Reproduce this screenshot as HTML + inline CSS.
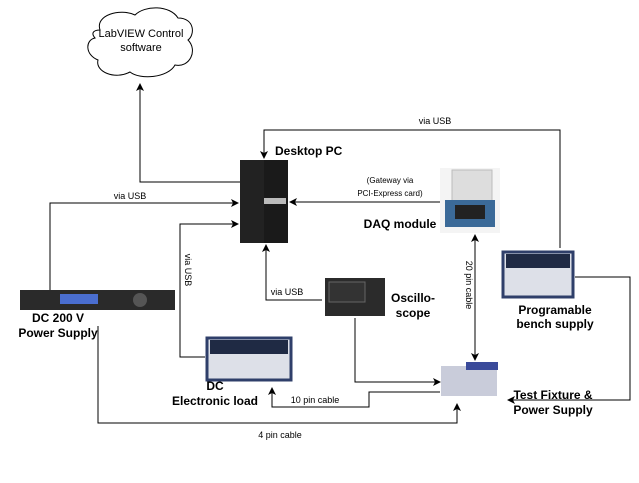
<!DOCTYPE html>
<html><head><style>
body{margin:0;background:#fff;width:639px;height:478px;overflow:hidden;font-family:"Liberation Sans",sans-serif}
</style></head><body>
<svg width="639" height="478" viewBox="0 0 639 478" xmlns="http://www.w3.org/2000/svg" font-family="Liberation Sans, sans-serif">
<defs><marker id="a" markerWidth="8" markerHeight="8" refX="7" refY="4" orient="auto" markerUnits="userSpaceOnUse"><path d="M0,0 L8,4 L0,8 L2,4 z" fill="#000"/></marker></defs>
<!-- cloud -->
<path d="M100,30 C95,15 120,8 135,15 C145,5 170,5 178,18 C195,18 195,35 188,40 C198,50 190,68 175,65 C168,78 140,80 130,72 C115,80 95,72 98,60 C85,55 85,40 95,38 C90,32 95,30 100,30 Z" fill="#fff" stroke="#000" stroke-width="1"/>
<text x="141" y="37" font-size="11" text-anchor="middle">LabVIEW Control</text>
<text x="141" y="51" font-size="11" text-anchor="middle">software</text>
<g fill="none" stroke="#000" stroke-width="1">
<polyline points="240,182 140,182 140,84" marker-end="url(#a)"/>
<polyline points="560,248 560,130 264,130 264,158" marker-end="url(#a)"/>
<polyline points="440,202 290,202" marker-end="url(#a)"/>
<polyline points="50,290 50,203 238,203" marker-end="url(#a)"/>
<polyline points="205,357 180,357 180,224 238,224" marker-end="url(#a)"/>
<polyline points="322,300 266,300 266,245" marker-end="url(#a)"/>
<polyline points="355,318 355,382 440,382" marker-end="url(#a)"/>
<polyline points="475,250 475,235" marker-end="url(#a)"/>
<polyline points="475,240 475,360" marker-end="url(#a)"/>
<polyline points="575,277 630,277 630,400 508,400" marker-end="url(#a)"/>
<polyline points="98,326 98,423 457,423 457,404" marker-end="url(#a)"/>
<polyline points="440,392 369,392 369,407 272,407 272,388" marker-end="url(#a)"/>
</g>
<!-- PC -->
<rect x="240" y="160" width="48" height="83" fill="#1a1a1a"/>
<rect x="240" y="160" width="24" height="83" fill="#222"/>
<rect x="264" y="198" width="22" height="6" fill="#bbb"/>
<text x="275" y="155" font-size="12" font-weight="bold">Desktop PC</text>
<text x="390" y="183" font-size="8" text-anchor="middle">(Gateway via</text>
<text x="390" y="196" font-size="8" text-anchor="middle">PCI-Express card)</text>
<text x="435" y="124" font-size="9" text-anchor="middle">via USB</text>
<text x="130" y="199" font-size="9" text-anchor="middle">via USB</text>
<text x="185" y="270" font-size="9" text-anchor="middle" transform="rotate(90 185 270)">via USB</text>
<text x="287" y="295" font-size="9" text-anchor="middle">via USB</text>
<text x="466" y="285" font-size="9" text-anchor="middle" transform="rotate(90 466 285)">20 pin cable</text>
<text x="315" y="403" font-size="9" text-anchor="middle">10 pin cable</text>
<text x="280" y="438" font-size="9" text-anchor="middle">4 pin cable</text>
<!-- DAQ -->
<rect x="440" y="168" width="60" height="65" fill="#f4f4f4"/>
<rect x="452" y="170" width="40" height="35" fill="#ddd" stroke="#bbb"/>
<rect x="445" y="200" width="50" height="27" fill="#3b6a98"/>
<rect x="455" y="205" width="30" height="14" fill="#222"/>
<text x="400" y="228" font-size="12" font-weight="bold" text-anchor="middle">DAQ module</text>
<!-- DC 200V -->
<rect x="20" y="290" width="155" height="20" fill="#2a2a2a"/>
<rect x="60" y="294" width="38" height="10" fill="#4a6ed0"/>
<circle cx="140" cy="300" r="7" fill="#555"/>
<text x="58" y="322" font-size="12" font-weight="bold" text-anchor="middle">DC 200 V</text>
<text x="58" y="337" font-size="12" font-weight="bold" text-anchor="middle">Power Supply</text>
<!-- scope -->
<rect x="325" y="278" width="60" height="38" fill="#2b2b2b"/>
<rect x="329" y="282" width="36" height="20" fill="#333" stroke="#666"/>
<text x="413" y="302" font-size="12" font-weight="bold" text-anchor="middle">Oscillo-</text>
<text x="413" y="317" font-size="12" font-weight="bold" text-anchor="middle">scope</text>
<!-- bench -->
<rect x="503" y="252" width="70" height="45" fill="#dde0e8" stroke="#2f3f6a" stroke-width="3"/>
<rect x="506" y="254" width="64" height="14" fill="#1f2a44"/>
<text x="555" y="314" font-size="12" font-weight="bold" text-anchor="middle">Programable</text>
<text x="555" y="328" font-size="12" font-weight="bold" text-anchor="middle">bench supply</text>
<!-- DC load -->
<rect x="207" y="338" width="84" height="42" fill="#dde0e8" stroke="#2f3f6a" stroke-width="3"/>
<rect x="210" y="340" width="78" height="14" fill="#1f2a44"/>
<text x="215" y="390" font-size="12" font-weight="bold" text-anchor="middle">DC</text>
<text x="215" y="405" font-size="12" font-weight="bold" text-anchor="middle">Electronic load</text>
<!-- fixture -->
<rect x="441" y="366" width="56" height="30" fill="#c9ccda"/>
<rect x="466" y="362" width="32" height="8" fill="#3a4a9a"/>
<text x="553" y="399" font-size="12" font-weight="bold" text-anchor="middle">Test Fixture &amp;</text>
<text x="553" y="414" font-size="12" font-weight="bold" text-anchor="middle">Power Supply</text>
</svg>
</body></html>
